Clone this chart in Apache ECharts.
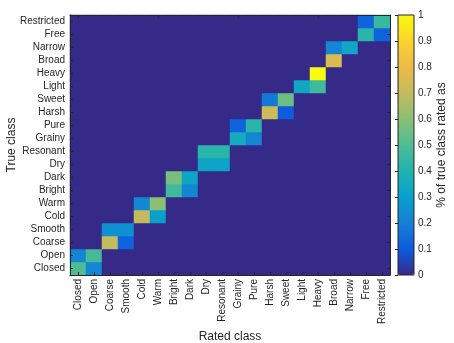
<!DOCTYPE html>
<html>
<head>
<meta charset="utf-8">
<script src="https://cdn.jsdelivr.net/npm/echarts@6/dist/echarts.min.js"></script>
<style>
html,body{margin:0;padding:0;background:#fff;}
#chart{width:454px;height:343px;}
</style>
</head>
<body>
<div id="chart"></div>
<script>
// Class names (bottom-to-top on y, left-to-right on x)
const classes = ['Closed','Open','Coarse','Smooth','Cold','Warm','Bright','Dark','Dry','Resonant',
  'Grainy','Pure','Harsh','Sweet','Light','Heavy','Broad','Narrow','Free','Restricted'];

// Confusion matrix: row = true class, column = rated class (fraction)
const confusion = [
  [0.50,0.22,0,0,0,0,0,0,0,0,0,0,0,0,0,0,0,0,0,0],       // Closed
  [0.22,0.48,0,0,0,0,0,0,0,0,0,0,0,0,0,0,0,0,0,0],       // Open
  [0,0,0.70,0.12,0,0,0,0,0,0,0,0,0,0,0,0,0,0,0,0],       // Coarse
  [0,0,0.25,0.25,0,0,0,0,0,0,0,0,0,0,0,0,0,0,0,0],       // Smooth
  [0,0,0,0,0.70,0.30,0,0,0,0,0,0,0,0,0,0,0,0,0,0],       // Cold
  [0,0,0,0,0.22,0.60,0,0,0,0,0,0,0,0,0,0,0,0,0,0],       // Warm
  [0,0,0,0,0,0,0.47,0.22,0,0,0,0,0,0,0,0,0,0,0,0],       // Bright
  [0,0,0,0,0,0,0.57,0.32,0,0,0,0,0,0,0,0,0,0,0,0],       // Dark
  [0,0,0,0,0,0,0,0,0.32,0.32,0,0,0,0,0,0,0,0,0,0],       // Dry
  [0,0,0,0,0,0,0,0,0.42,0.42,0,0,0,0,0,0,0,0,0,0],       // Resonant
  [0,0,0,0,0,0,0,0,0,0,0.35,0.22,0,0,0,0,0,0,0,0],       // Grainy
  [0,0,0,0,0,0,0,0,0,0,0.12,0.42,0,0,0,0,0,0,0,0],       // Pure
  [0,0,0,0,0,0,0,0,0,0,0,0,0.72,0.10,0,0,0,0,0,0],       // Harsh
  [0,0,0,0,0,0,0,0,0,0,0,0,0.18,0.55,0,0,0,0,0,0],       // Sweet
  [0,0,0,0,0,0,0,0,0,0,0,0,0,0,0.33,0.47,0,0,0,0],       // Light
  [0,0,0,0,0,0,0,0,0,0,0,0,0,0,0,1.00,0,0,0,0],          // Heavy
  [0,0,0,0,0,0,0,0,0,0,0,0,0,0,0,0,0.75,0,0,0],          // Broad
  [0,0,0,0,0,0,0,0,0,0,0,0,0,0,0,0,0.22,0.33,0,0],       // Narrow
  [0,0,0,0,0,0,0,0,0,0,0,0,0,0,0,0,0,0,0.42,0.12],       // Free
  [0,0,0,0,0,0,0,0,0,0,0,0,0,0,0,0,0,0,0.12,0.45]        // Restricted
];

// Colour bar ticks
const colorbarMin = 0, colorbarMax = 1, colorbarStep = 0.1;

// Parula-like colormap
const parula = ['#352A87','#0D5CDE','#1580D6','#09A0CC','#21B3B0','#4FBC92',
  '#8ABF75','#C3BC5E','#EEB946','#F9D42E','#F9FB0E'];

const heatData = [];
confusion.forEach((row, i) => row.forEach((v, j) => heatData.push([j, i, v])));

const txt = '#262626';
const font = "'Liberation Sans', Arial, sans-serif";
const tickStyle = {show:true, inside:true, alignWithLabel:true, length:3, lineStyle:{color:txt, width:1}};
const lineStyle = {show:true, onZero:false, lineStyle:{color:txt, width:1}};

const chart = echarts.init(document.getElementById('chart'), null, {renderer:'canvas'});
chart.setOption({
  animation:false,
  backgroundColor:'#fff',
  textStyle:{fontFamily:font, color:txt},
  grid:[
    {left:70, top:15, width:320, height:260, show:true, borderWidth:0, backgroundColor:parula[0], z:0,
     containLabel:false, outerBoundsMode:'none'},
    {left:398, top:15, width:16, height:260, show:true, borderColor:txt, borderWidth:1, backgroundColor:'transparent', z:10,
     containLabel:false, outerBoundsMode:'none'}
  ],
  xAxis:[
    {gridIndex:0, type:'category', data:classes, position:'bottom', z:10,
     axisLine:lineStyle, axisTick:tickStyle, splitLine:{show:false},
     axisLabel:{interval:0, rotate:90, fontSize:10, color:txt, margin:4, fontFamily:font},
     name:'Rated class', nameLocation:'middle', nameGap:56, nameMoveOverlap:false,
     nameTextStyle:{fontSize:12, color:txt, fontFamily:font}},
    {gridIndex:0, type:'category', data:classes, position:'top', z:10,
     axisLine:lineStyle, axisTick:tickStyle, axisLabel:{show:false}, splitLine:{show:false}},
    {gridIndex:1, type:'value', show:false, min:0, max:1}
  ],
  yAxis:[
    {gridIndex:0, type:'category', data:classes, position:'left', z:10,
     axisLine:lineStyle, axisTick:tickStyle, splitLine:{show:false},
     axisLabel:{interval:0, fontSize:10, color:txt, margin:5, fontFamily:font},
     name:'True class', nameLocation:'middle', nameGap:52, nameRotate:90, nameMoveOverlap:false,
     nameTextStyle:{fontSize:12, color:txt, fontFamily:font}},
    {gridIndex:0, type:'category', data:classes, position:'right', z:10,
     axisLine:lineStyle, axisTick:tickStyle, axisLabel:{show:false}, splitLine:{show:false}},
    {gridIndex:1, type:'value', position:'right', min:colorbarMin, max:colorbarMax, interval:colorbarStep, z:10,
     axisLine:{show:false}, axisTick:{show:true, inside:true, length:3, lineStyle:{color:txt}},
     splitLine:{show:false},
     axisLabel:{fontSize:10, color:txt, margin:4, fontFamily:font},
     name:'% of true class rated as', nameLocation:'middle', nameGap:20, nameRotate:90,
     nameTextStyle:{fontSize:12, color:txt, fontFamily:font}}
  ],
  visualMap:{
    type:'continuous', min:colorbarMin, max:colorbarMax, seriesIndex:0,
    left:398, top:15, itemWidth:16, itemHeight:260, padding:0,
    calculable:false, hoverLink:false, text:null, z:4,
    inRange:{color:parula}
  },
  series:[{
    type:'heatmap', xAxisIndex:0, yAxisIndex:0, data:heatData,
    itemStyle:{borderWidth:0},
    emphasis:{disabled:true}, progressive:0
  }]
});
</script>
</body>
</html>
